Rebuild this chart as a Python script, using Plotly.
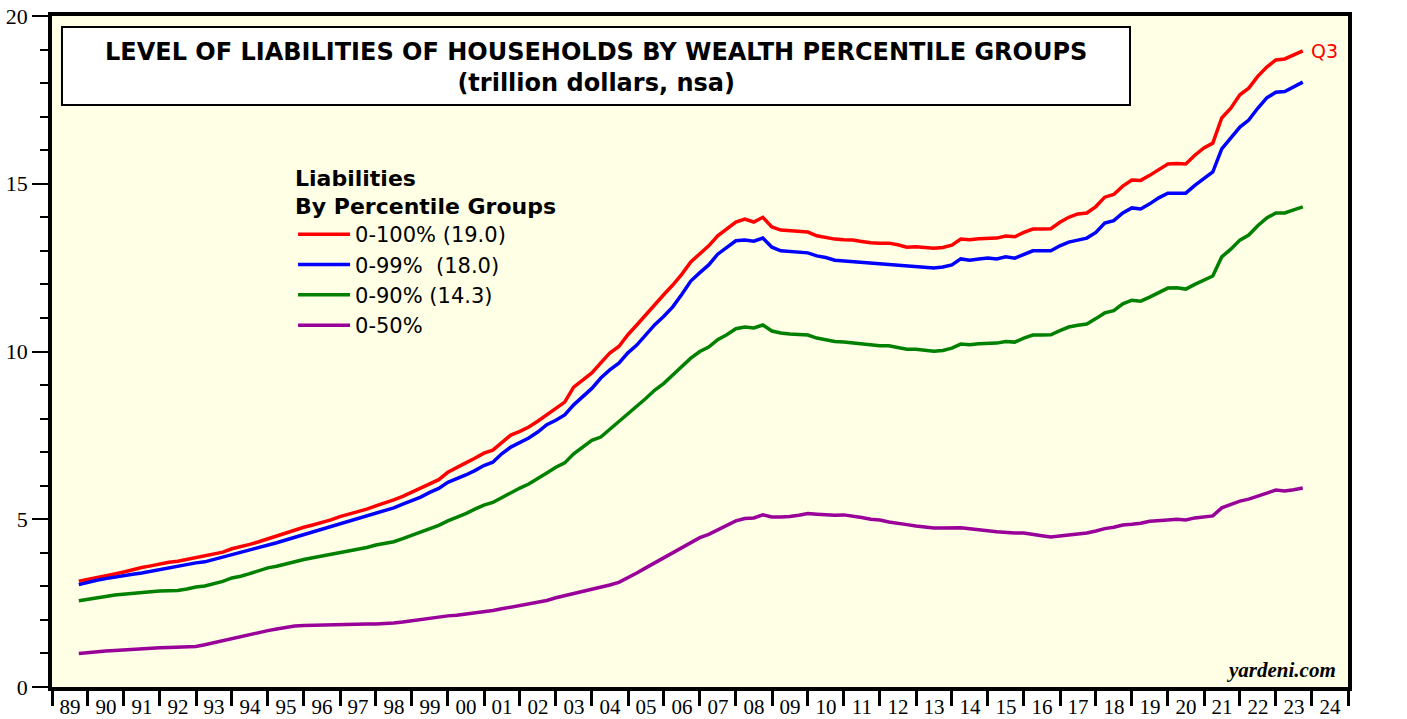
import plotly.graph_objects as go

# ---------------- data (trillion dollars, quarterly 1989Q3 .. 2023Q3) ----------------
start_year, start_q = 1989, 3
end_year, end_q = 2023, 3

liab_0_100 = [
    3.15, 3.20,
    3.26, 3.32, 3.37, 3.43,
    3.50, 3.56, 3.61, 3.67,
    3.72, 3.75, 3.80, 3.86,
    3.90, 3.96, 4.02, 4.12,
    4.18, 4.25, 4.33, 4.42,
    4.50, 4.58, 4.66, 4.76,
    4.83, 4.90, 4.98, 5.08,
    5.15, 5.22, 5.30, 5.40,
    5.48, 5.58, 5.68, 5.80,
    5.93, 6.06, 6.18, 6.40,
    6.55, 6.68, 6.82, 6.97,
    7.06, 7.30, 7.51, 7.62,
    7.75, 7.92, 8.11, 8.30,
    8.49, 8.94, 9.15, 9.36,
    9.66, 9.95, 10.15, 10.50,
    10.79, 11.10, 11.39, 11.70,
    11.98, 12.30, 12.67, 12.90,
    13.15, 13.45, 13.65, 13.86,
    13.95, 13.86, 14.00, 13.71,
    13.62, 13.60, 13.58, 13.56,
    13.45, 13.40, 13.35, 13.33,
    13.32, 13.28, 13.24, 13.23,
    13.23, 13.18, 13.11, 13.12,
    13.10, 13.08, 13.10, 13.17,
    13.35, 13.33, 13.36, 13.38,
    13.38, 13.44, 13.42, 13.55,
    13.65, 13.65, 13.66, 13.85,
    14.00, 14.10, 14.13, 14.32,
    14.60, 14.68, 14.93, 15.11,
    15.10, 15.25, 15.42, 15.59,
    15.60, 15.59, 15.85, 16.07,
    16.21, 16.96, 17.25, 17.65,
    17.85, 18.20, 18.48, 18.69,
    18.72, 18.85, 18.96,
]

liab_0_99 = [
    3.05, 3.12,
    3.18, 3.23, 3.28, 3.32,
    3.36, 3.40, 3.45, 3.52,
    3.56, 3.60, 3.65, 3.70,
    3.73, 3.80, 3.86, 3.95,
    4.00, 4.07, 4.15, 4.22,
    4.30, 4.38, 4.46, 4.55,
    4.62, 4.70, 4.78, 4.87,
    4.93, 5.00, 5.08, 5.17,
    5.24, 5.34, 5.45, 5.56,
    5.66, 5.80, 5.92, 6.10,
    6.20, 6.32, 6.45, 6.60,
    6.70, 6.95, 7.15, 7.30,
    7.42, 7.60, 7.82, 7.95,
    8.11, 8.41, 8.65, 8.90,
    9.21, 9.45, 9.65, 9.96,
    10.19, 10.50, 10.80, 11.05,
    11.33, 11.70, 12.10, 12.35,
    12.58, 12.90, 13.10, 13.30,
    13.32, 13.29, 13.38, 13.11,
    13.00, 12.98, 12.96, 12.94,
    12.85, 12.80, 12.72, 12.70,
    12.68, 12.66, 12.64, 12.62,
    12.60, 12.57, 12.55, 12.55,
    12.52, 12.49, 12.52, 12.58,
    12.76, 12.72, 12.76, 12.79,
    12.76, 12.82, 12.78, 12.90,
    13.00, 13.00, 13.00, 13.15,
    13.26, 13.32, 13.38, 13.55,
    13.83, 13.90, 14.13, 14.28,
    14.25, 14.40, 14.58, 14.72,
    14.73, 14.72, 14.95, 15.14,
    15.35, 16.04, 16.35, 16.69,
    16.90, 17.25, 17.56, 17.73,
    17.75, 17.88, 18.03,
]

liab_0_90 = [
    2.57, 2.62,
    2.66, 2.70, 2.74, 2.77,
    2.79, 2.81, 2.84, 2.86,
    2.87, 2.88, 2.92, 2.98,
    3.01, 3.08, 3.15, 3.25,
    3.30, 3.38, 3.46, 3.55,
    3.60, 3.67, 3.74, 3.80,
    3.85, 3.90, 3.95, 4.02,
    4.05, 4.10, 4.16, 4.23,
    4.27, 4.33, 4.42, 4.52,
    4.60, 4.70, 4.82, 4.95,
    5.05, 5.17, 5.30, 5.42,
    5.50, 5.65, 5.80, 5.93,
    6.05, 6.20, 6.38, 6.55,
    6.68, 6.95, 7.15, 7.35,
    7.45, 7.68, 7.90, 8.15,
    8.35, 8.60, 8.85, 9.05,
    9.30, 9.55, 9.80, 10.00,
    10.13, 10.35, 10.50, 10.68,
    10.73, 10.70, 10.79, 10.61,
    10.55, 10.52, 10.50, 10.49,
    10.40, 10.34, 10.30, 10.28,
    10.25, 10.22, 10.19, 10.17,
    10.17, 10.12, 10.07, 10.07,
    10.04, 10.01, 10.03, 10.10,
    10.22, 10.20, 10.23, 10.25,
    10.25, 10.30, 10.28, 10.40,
    10.49, 10.49, 10.50, 10.62,
    10.73, 10.78, 10.82, 10.98,
    11.15, 11.22, 11.42, 11.53,
    11.50, 11.62, 11.76, 11.89,
    11.90, 11.86, 12.00, 12.13,
    12.25, 12.82, 13.05, 13.32,
    13.47, 13.75, 13.98, 14.13,
    14.13, 14.22, 14.31,
]

liab_0_50 = [
    1.00, 1.03,
    1.05, 1.07, 1.09, 1.11,
    1.13, 1.15, 1.16, 1.17,
    1.18, 1.19, 1.19, 1.21,
    1.26, 1.32, 1.39, 1.46,
    1.51, 1.56, 1.62, 1.68,
    1.73, 1.78, 1.82, 1.83,
    1.84, 1.84, 1.85, 1.85,
    1.86, 1.87, 1.88, 1.88,
    1.89, 1.91, 1.94, 1.98,
    2.01, 2.05, 2.09, 2.12,
    2.14, 2.17, 2.21, 2.25,
    2.28, 2.33, 2.38, 2.43,
    2.47, 2.52, 2.58, 2.66,
    2.72, 2.80, 2.86, 2.92,
    2.97, 3.04, 3.12, 3.25,
    3.40, 3.55, 3.70, 3.85,
    4.00, 4.15, 4.32, 4.45,
    4.55, 4.68, 4.82, 4.95,
    5.02, 5.04, 5.13, 5.07,
    5.07, 5.08, 5.12, 5.17,
    5.15, 5.13, 5.12, 5.13,
    5.10, 5.05, 5.00, 4.98,
    4.92, 4.89, 4.84, 4.80,
    4.76, 4.74, 4.74, 4.74,
    4.75, 4.72, 4.68, 4.66,
    4.63, 4.60, 4.59, 4.59,
    4.56, 4.51, 4.47, 4.49,
    4.53, 4.56, 4.59, 4.65,
    4.72, 4.76, 4.83, 4.85,
    4.88, 4.94, 4.97, 4.98,
    5.00, 4.98, 5.04, 5.07,
    5.10, 5.34, 5.45, 5.54,
    5.60, 5.70, 5.78, 5.87,
    5.84, 5.88, 5.93,
]

series_names = ["0-100% (19.0)", "0-99%\u00a0\u00a0(18.0)", "0-90% (14.3)", "0-50%"]
series_colors = ["#FF0000", "#0000FF", "#008000", "#990099"]
year_tick_format = "%y"

# quarter-end dates
q_end = {1: "03-31", 2: "06-30", 3: "09-30", 4: "12-31"}
dates = []
y, q = start_year, start_q
while (y, q) <= (end_year, end_q):
    dates.append(f"{y}-{q_end[q]}")
    q += 1
    if q > 4:
        q, y = 1, y + 1

# ---------------- figure ----------------
fig = go.Figure()
for vals, name, col in zip([liab_0_100, liab_0_99, liab_0_90, liab_0_50], series_names, series_colors):
    fig.add_trace(go.Scatter(x=dates, y=vals, mode="lines", name=name,
                             line=dict(color=col, width=3.5)))

serif = "Liberation Serif, Times New Roman, serif"
sans = "DejaVu Sans, Arial, sans-serif"

fig.update_layout(
    width=1407, height=719,
    margin=dict(l=52, r=59, t=16, b=32),
    paper_bgcolor="white",
    plot_bgcolor="#FFFFE5",
    showlegend=True,
    legend=dict(
        x=0.186, y=0.79, xanchor="left", yanchor="top",
        bgcolor="rgba(0,0,0,0)", borderwidth=0,
        title=dict(text="<b>Liabilities</b><br><b>By Percentile Groups</b>",
                   font=dict(family=sans, size=22, color="black"), side="top"),
        font=dict(family=sans, size=21, color="black"),
        tracegroupgap=0, itemwidth=52,
    ),
    xaxis=dict(
        type="date", automargin=False,
        range=["1989-01-01", "2025-01-01"],
        tick0="1989-01-01", dtick="M12",
        tickformat=year_tick_format, ticklabelmode="period",
        ticks="outside", ticklen=15, tickwidth=2.5, tickcolor="black",
        showline=True, linewidth=3.5, linecolor="black", mirror=True,
        showgrid=False, zeroline=False,
        tickfont=dict(family=serif, size=21, color="black"),
        ticklabelstandoff=-17,
    ),
    yaxis=dict(
        automargin=False,
        range=[0, 20], tickvals=[0, 5, 10, 15, 20],
        ticks="outside", ticklen=16, tickwidth=1.5, tickcolor="black",
        minor=dict(dtick=1, tick0=0, ticks="outside", ticklen=8, tickwidth=1.5, tickcolor="black"),
        showline=True, linewidth=3.5, linecolor="black", mirror=True,
        showgrid=False, zeroline=False,
        tickfont=dict(family=serif, size=22, color="black"),
    ),
    yaxis2=dict(
        automargin=False,
        overlaying="y", side="right", anchor="x",
        range=[0, 20], tickvals=[0, 5, 10, 15, 20],
        ticks="outside", ticklen=16, tickwidth=1.5, tickcolor="black",
        minor=dict(dtick=1, tick0=0, ticks="outside", ticklen=8, tickwidth=1.5, tickcolor="black"),
        showline=False, showgrid=False, zeroline=False,
        tickfont=dict(family=serif, size=22, color="black"),
    ),
)

# title box
fig.add_shape(type="rect", xref="paper", yref="paper",
              x0=0.0077, x1=0.8318, y0=0.8675, y1=0.9836,
              fillcolor="white", line=dict(color="black", width=2), layer="above")
fig.add_annotation(xref="paper", yref="paper", x=0.4198, y=0.9235,
                   xanchor="center", yanchor="middle", showarrow=False,
                   text="<b>LEVEL OF LIABILITIES OF HOUSEHOLDS BY WEALTH PERCENTILE GROUPS</b><br>"
                        "<b>(trillion dollars, nsa)</b>",
                   font=dict(family=sans, size=24, color="black"))

# Q3 label at last point
fig.add_annotation(x=dates[-1], y=liab_0_100[-1], xanchor="left", yanchor="middle",
                   xshift=6, showarrow=False, text="Q3",
                   font=dict(family=sans, size=19, color="#FF0000"))

# source
fig.add_annotation(xref="paper", yref="paper", x=1, y=0, xanchor="right", yanchor="bottom",
                   xshift=-10, yshift=3, showarrow=False, text="<b><i>yardeni.com</i></b>",
                   font=dict(family=serif, size=21, color="black"))

fig.write_html("out.html", config={"displayModeBar": False},
               post_script="document.body.style.margin='0px';")
